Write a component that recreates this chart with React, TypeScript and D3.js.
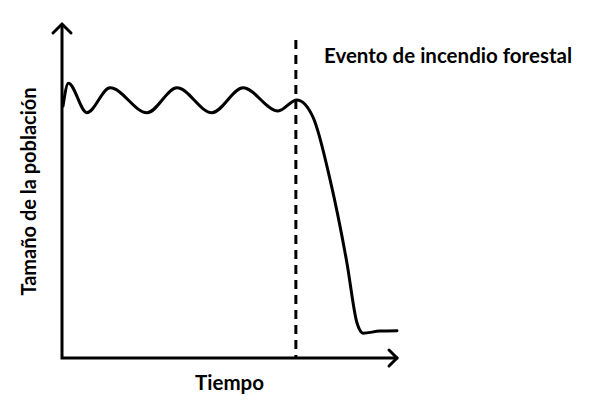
import * as d3 from "d3";
import React from "react";

// time (0..10) and population (0..100)
const timeValues = [0.03, 0.19, 0.74, 1.43, 2.53, 3.42, 4.46, 5.39, 6.43, 6.99, 7.47, 7.98, 8.48, 8.78, 8.96, 9.46, 9.97];
const populationValues = [75.0, 81.8, 73.0, 80.4, 73.0, 80.4, 73.0, 80.4, 73.5, 76.8, 71.7, 53.0, 28.3, 10.4, 7.4, 8.0, 8.1];
const eventTime = 6.99;

const xLabel = "Tiempo";
const yLabel = "Tamaño de la población";
const eventLabel = "Evento de incendio forestal";

const width = 590;
const height = 401;
const left = 62;
const right = 398;
const bottom = 358;
const top = 22;

export default function App() {
  const x = d3.scaleLinear().domain([0, 10]).range([left, left + 336]);
  const y = d3.scaleLinear().domain([0, 100]).range([bottom, bottom - 336]);

  const points: [number, number][] = timeValues.map((t, i) => [t, populationValues[i]]);
  const line = d3
    .line<[number, number]>()
    .x((d) => x(d[0]))
    .y((d) => y(d[1]))
    .curve(d3.curveMonotoneX);

  const font = "Lato, 'DejaVu Sans', sans-serif";

  return (
    <svg
      width={width}
      height={height}
      style={{ position: "absolute", left: 0, top: 0, background: "#fff" }}
    >
      {/* axes */}
      <path
        d={`M${left},${top + 2} L${left},${bottom} L${right},${bottom}`}
        fill="none"
        stroke="#000"
        strokeWidth={3}
      />
      <path
        d={`M${left - 9},${top + 11} L${left},${top + 2} L${left + 9},${top + 11}`}
        fill="none"
        stroke="#000"
        strokeWidth={3}
        strokeLinecap="round"
      />
      <path
        d={`M${right - 9},${bottom - 8} L${right - 1},${bottom} L${right - 9},${bottom + 8}`}
        fill="none"
        stroke="#000"
        strokeWidth={3}
        strokeLinecap="round"
      />

      {/* event marker */}
      <line
        x1={x(eventTime) - 1}
        x2={x(eventTime) - 1}
        y1={40}
        y2={bottom}
        stroke="#000"
        strokeWidth={3}
        strokeDasharray="9,6"
      />

      <path d={line(points) ?? ""} fill="none" stroke="#000" strokeWidth={3} strokeLinecap="round" />

      <text x={324} y={63} fontFamily={font} fontWeight={700} fontSize={20.5} fill="#000">
        {eventLabel}
      </text>
      <text x={229.5} y={390} textAnchor="middle" fontFamily={font} fontWeight={700} fontSize={20.5} fill="#000">
        {xLabel}
      </text>
      <text
        transform={`translate(36,191.5) rotate(-90)`}
        textAnchor="middle"
        fontFamily={font}
        fontWeight={700}
        fontSize={20}
        fill="#000"
      >
        {yLabel}
      </text>
    </svg>
  );
}
